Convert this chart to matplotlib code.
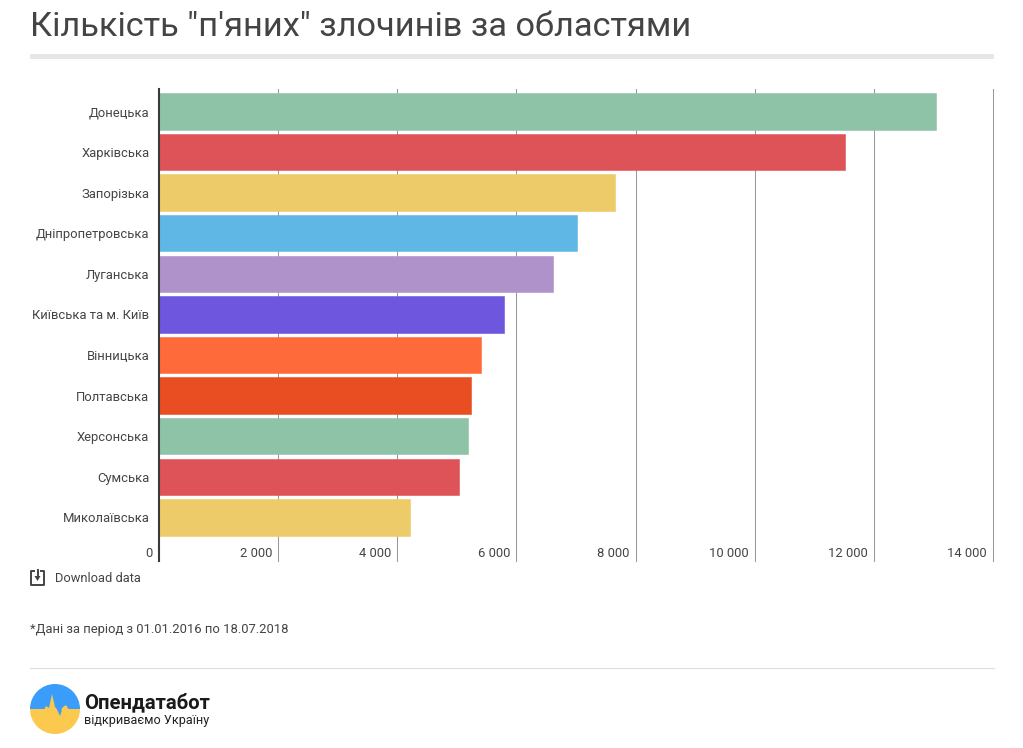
import matplotlib.pyplot as plt
import matplotlib.patches as patches
import numpy as np

regions = ["Донецька", "Харківська", "Запорізька", "Дніпропетровська", "Луганська",
           "Київська та м. Київ", "Вінницька", "Полтавська", "Херсонська", "Сумська", "Миколаївська"]
counts = [13035, 11515, 7663, 7017, 6606, 5791, 5397, 5237, 5179, 5044, 4213]
colors = ["#8fc3a8", "#dd5357", "#eecb69", "#5fb7e5", "#ae92c9", "#6e56de", "#ff6a3b",
          "#e84e22", "#8fc3a8", "#dd5357", "#eecb69"]
xticks = [0, 2000, 4000, 6000, 8000, 10000, 12000, 14000]
xtick_labels = ["0", "2 000", "4 000", "6 000", "8 000", "10 000", "12 000", "14 000"]

W, H = 1023, 748
TEXT = "#444444"
plt.rcParams["font.family"] = ["Roboto", "DejaVu Sans"]

fig = plt.figure(figsize=(W / 100, H / 100), dpi=100)

# page furniture, drawn in pixel coordinates
page = fig.add_axes([0, 0, 1, 1])
page.set_xlim(0, W)
page.set_ylim(H, 0)
page.axis("off")

page.text(30, 27, 'Кількість "п\'яних" злочинів за областями', fontsize=24.75, color=TEXT, va="center")
page.add_patch(patches.Rectangle((30, 54), 964, 5, color="#e6e6e6", lw=0))

# download icon
page.plot([34, 31, 31, 44, 44, 41], [571, 571, 585, 585, 571, 571], color=TEXT, lw=1.4)
page.plot([37.5, 37.5], [570, 578], color=TEXT, lw=1.4)
page.add_patch(patches.Polygon([[34.5, 576], [40.5, 576], [37.5, 581]], color=TEXT, lw=0))
page.text(55, 579, "Download data", fontsize=9.3, color=TEXT, va="center")

page.text(30, 629, "*Дані за період з 01.01.2016 по 18.07.2018", fontsize=9.4, color=TEXT, va="center")
page.plot([30, 994], [668, 668], color="#dcdcdc", lw=0.8)

# logo
page.add_patch(patches.Wedge((55, 709), 25, 180, 360, color="#3b9dfb", lw=0))
page.add_patch(patches.Wedge((55, 709), 25, 0, 180, color="#fac94e", lw=0))
page.add_patch(patches.Polygon([[44, 710], [46, 706], [49, 708], [52, 694], [55, 707], [58, 710]],
                               color="#fac94e", lw=0))
page.add_patch(patches.Polygon([[56.5, 708.5], [60, 716], [62.5, 708.5]], color="#3b9dfb", lw=0))
page.add_patch(patches.Polygon([[61, 710], [63, 707], [66, 705], [69, 710]], color="#fac94e", lw=0))
page.text(84, 702, "Опендатабот", fontsize=14.6, fontweight="bold", color="#1a1a1a", va="center")
page.text(84, 720.5, "відкриваємо Україну", fontsize=9.1, color="#222222", va="center")

# chart
left, right, top, bottom = 159, 993, 89, 561
ax = fig.add_axes([left / W, 1 - bottom / H, (right - left) / W, (bottom - top) / H])
ax.patch.set_alpha(0)
y = np.arange(len(regions))
ax.barh(y, counts, height=0.895, color=colors, edgecolor=colors, linewidth=0.4, zorder=3)
ax.set_xlim(0, 14000)
ax.set_ylim(11.075, -0.551)

ax.set_yticks(y)
ax.set_yticklabels(regions, fontsize=9.35, color=TEXT)
ax.tick_params(axis="y", length=0, pad=7)
ax.set_xticks(xticks)
ax.set_xticklabels([])
ax.tick_params(axis="x", length=0)
ax.grid(axis="x", color="#999999", lw=0.75, zorder=1)
for line in ax.get_xgridlines():
    line.set_clip_on(False)

for t, lab in zip(xticks, xtick_labels):
    ax.annotate(lab, (t, 0), xycoords=ax.get_xaxis_transform(), xytext=(-4.5, 1),
                textcoords="offset points", ha="right", va="bottom", fontsize=9.35, color=TEXT)

for side in ["top", "right", "bottom"]:
    ax.spines[side].set_visible(False)
ax.spines["left"].set_color("#3a3a3a")
ax.spines["left"].set_linewidth(1.5)
ax.spines["left"].set_zorder(4)

fig.savefig("out.png", dpi=100)
plt.close()
